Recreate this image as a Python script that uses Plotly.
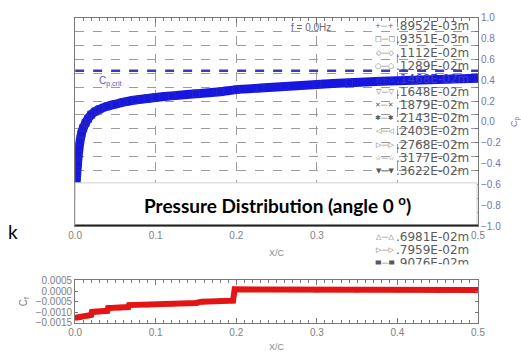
import plotly.graph_objects as go

W, H = 521, 356


def px(x):
    return x / W


def py(y):
    return 1 - y / H


# ---------------- data ----------------
# pressure coefficient (upper plot)
xc_cp = [0.000, 0.001, 0.002, 0.003, 0.004, 0.006, 0.008, 0.010, 0.013, 0.016,
         0.020, 0.025, 0.030, 0.040, 0.050, 0.060, 0.075, 0.090, 0.100, 0.120,
         0.150, 0.180, 0.200, 0.230, 0.260, 0.300, 0.340, 0.380, 0.420, 0.460, 0.500]
cp = [-0.75, -0.62, -0.50, -0.40, -0.31, -0.19, -0.11, -0.06, -0.01, 0.03,
      0.07, 0.10, 0.12, 0.15, 0.17, 0.19, 0.21, 0.225, 0.235, 0.25,
      0.27, 0.29, 0.31, 0.325, 0.34, 0.36, 0.375, 0.39, 0.40, 0.41, 0.42]
cp_crit = 0.49
cp_ticks = [1.0, 0.8, 0.6, 0.4, 0.2, 0.0, -0.2, -0.4, -0.6, -0.8, -1.0]

# skin friction coefficient (lower plot)
xc_cf = [0.000, 0.005, 0.010, 0.015, 0.020, 0.021, 0.030, 0.040, 0.041, 0.055,
         0.066, 0.067, 0.090, 0.120, 0.150, 0.157, 0.180, 0.196, 0.198, 0.250,
         0.300, 0.350, 0.400, 0.450, 0.500]
cf = [-0.00126, -0.00124, -0.00120, -0.00116, -0.00112, -0.00098, -0.00096, -0.00093, -0.00080, -0.00078,
      -0.00075, -0.00066, -0.00064, -0.00060, -0.00056, -0.00050, -0.00047, -0.00045, 0.00008, 0.00007,
      0.00006, 0.00006, 0.00006, 0.00005, 0.00005]
cf_ticks = [0.0005, 0.0, -0.0005, -0.0010, -0.0015]

xc_ticks = [0.0, 0.1, 0.2, 0.3, 0.4, 0.5]
xc_ticktext_top = ["0.0", "0.1", "0.2", "0.3", "", "0.5"]

legend_labels = [".8952E-03m", ".9351E-03m", ".1112E-02m", ".1289E-02m", ".1468E-02m",
                 ".1648E-02m", ".1879E-02m", ".2143E-02m", ".2403E-02m", ".2768E-02m",
                 ".3177E-02m", ".3622E-02m", ".4130E-02m", ".4709E-02m", ".5369E-02m",
                 ".6122E-02m", ".6981E-02m", ".7959E-02m", ".9076E-02m"]
legend_symbols = ["+", "□", "◇", "○", "△", "▽", "✕", "✱", "◁", "▷", "☆", "▼",
                  "+", "□", "◇", "○", "△", "▷", "■"]
legend_shown = [0, 1, 2, 3, 4, 5, 6, 7, 8, 9, 10, 11, 16, 17, 18]

title_text = "Pressure Distribution (angle 0 <sup>o</sup>)"
freq_text = "f = 0.0Hz"

FONT = "Liberation Sans, Arial, sans-serif"

fig = go.Figure()

fig.add_trace(go.Scatter(
    x=[0, 0.5], y=[cp_crit, cp_crit], xaxis="x", yaxis="y", mode="lines",
    line=dict(color="#3c3cb0", width=2.5, dash="dash"), showlegend=False, hoverinfo="skip"))

fig.add_trace(go.Scatter(
    x=xc_cp, y=cp, xaxis="x", yaxis="y", mode="lines+markers",
    line=dict(color="#1616e0", width=9, shape="spline", smoothing=0.6),
    marker=dict(symbol="square-open", size=7, color="#2626c8", line=dict(width=1)),
    showlegend=False))

fig.add_trace(go.Scatter(
    x=xc_cf, y=cf, xaxis="x2", yaxis="y2", mode="lines+markers",
    line=dict(color="#e41414", width=6),
    marker=dict(symbol="square", size=5, color="#e41414"),
    showlegend=False))

top_dom = [py(228), py(12)]
bot_dom = [py(328), py(284)]
xdom = [px(70), px(484)]

axis_line = "#777777"
grid_col = "#9c9c9c"
n_grid = 15
grid_vals = [-1 + 2 * k / n_grid for k in range(1, n_grid)]

fig.update_layout(
    width=W, height=H,
    margin=dict(l=0, r=0, t=0, b=0),
    paper_bgcolor="white", plot_bgcolor="white",
    font=dict(family=FONT, size=10, color="#777777"),
    xaxis=dict(domain=xdom, anchor="y", range=[0, 0.5], tickvals=xc_ticks,
               ticktext=xc_ticktext_top,
               showline=True, linecolor=axis_line, mirror="ticks", ticks="inside", ticklen=5,
               tickcolor=axis_line, showgrid=True, gridcolor=grid_col, griddash="dash",
               zeroline=False, tickfont=dict(size=10, color="#808080"),
               minor=dict(dtick=0.01, ticks="inside", ticklen=3, tickcolor=axis_line, showgrid=False),
               title=dict(text="X/C", font=dict(size=9, color="#8a8a8a"), standoff=9)),
    yaxis=dict(domain=top_dom, anchor="x", side="right", range=[-1, 1], tickvals=cp_ticks,
               tickformat=".1f", showgrid=False, zeroline=False,
               showline=True, linecolor=axis_line, mirror=True, ticks="",
               tickfont=dict(size=10, color="#7474b4"),
               minor=dict(tickvals=grid_vals, ticks="inside", ticklen=3, tickcolor=axis_line,
                          showgrid=True, gridcolor=grid_col, griddash="dash", gridwidth=1),
               title=dict(text="C<sub>p</sub>", font=dict(size=9, color="#7474b4"), standoff=10)),
    xaxis2=dict(domain=xdom, anchor="y2", range=[0, 0.5], tickvals=xc_ticks, tickformat=".1f",
                showline=True, linecolor=axis_line, mirror="ticks", ticks="inside", ticklen=5,
                tickcolor=axis_line, showgrid=False, zeroline=False,
                tickfont=dict(size=10, color="#808080"),
                minor=dict(dtick=0.01, ticks="inside", ticklen=3, tickcolor=axis_line),
                title=dict(text="X/C", font=dict(size=9, color="#8a8a8a"), standoff=6)),
    yaxis2=dict(domain=bot_dom, anchor="x2", range=[-0.0015, 0.0005], tickvals=cf_ticks,
                tickformat=".4f", showline=True, linecolor=axis_line, mirror="ticks",
                ticks="inside", ticklen=3, tickcolor=axis_line, showgrid=False, zeroline=False,
                tickfont=dict(size=10, color="#808080"),
                title=dict(text="C<sub>f</sub>", font=dict(size=10, color="#808080"), standoff=6)),
)

shapes = [
    dict(type="rect", xref="paper", yref="paper", x0=px(70), x1=px(483), y0=py(227), y1=py(183),
         fillcolor="white", line=dict(color="#cfcfcf", width=1), layer="above"),
    dict(type="line", xref="paper", yref="paper", x0=px(70), x1=px(484), y0=py(227), y1=py(227),
         line=dict(color="#222222", width=1.5), layer="above"),
]
fig.update_layout(shapes=shapes)

ann = []
for i in legend_shown:
    yy = 21 + 13.6 * i
    col = "#3a3ac8" if i == 4 else "#5a5a5a"
    bg = "white" if i >= 16 else "rgba(0,0,0,0)"
    ann.append(dict(xref="paper", yref="paper", x=px(388), y=py(yy), xanchor="center", yanchor="middle",
                    text=legend_symbols[i] + "—" + legend_symbols[i], showarrow=False,
                    font=dict(family="DejaVu Sans", size=7, color=col), bgcolor=bg))
    ann.append(dict(xref="paper", yref="paper", x=px(398), y=py(yy), xanchor="left", yanchor="middle",
                    text=legend_labels[i], showarrow=False,
                    font=dict(family="DejaVu Sans", size=12, color=col), bgcolor=bg))
# partially hidden last entry
ann.append(dict(xref="paper", yref="paper", x=px(376), y=py(274), xanchor="left", yanchor="middle",
                text="", showarrow=False, width=112, height=10, bgcolor="white"))

ann.append(dict(xref="paper", yref="paper", x=px(290), y=py(22), xanchor="left", yanchor="middle",
                text=freq_text, showarrow=False, font=dict(size=10, color="#6a6a6a")))
ann.append(dict(xref="paper", yref="paper", x=px(92), y=py(78), xanchor="left", yanchor="middle",
                text="C<sub>p,crit</sub>", showarrow=False, font=dict(size=10, color="#5a5ab4")))
ann.append(dict(xref="paper", yref="paper", x=px(278), y=py(205), xanchor="center", yanchor="middle",
                text=title_text, showarrow=False,
                font=dict(family="Lato, Carlito, sans-serif", size=19, color="#000000", weight="bold")))
ann.append(dict(xref="paper", yref="paper", x=px(6), y=py(233), xanchor="center", yanchor="middle",
                text="k", showarrow=False,
                font=dict(family="Lato, sans-serif", size=19, color="#000000")))
fig.update_layout(annotations=ann)

fig.write_html("out.html")
